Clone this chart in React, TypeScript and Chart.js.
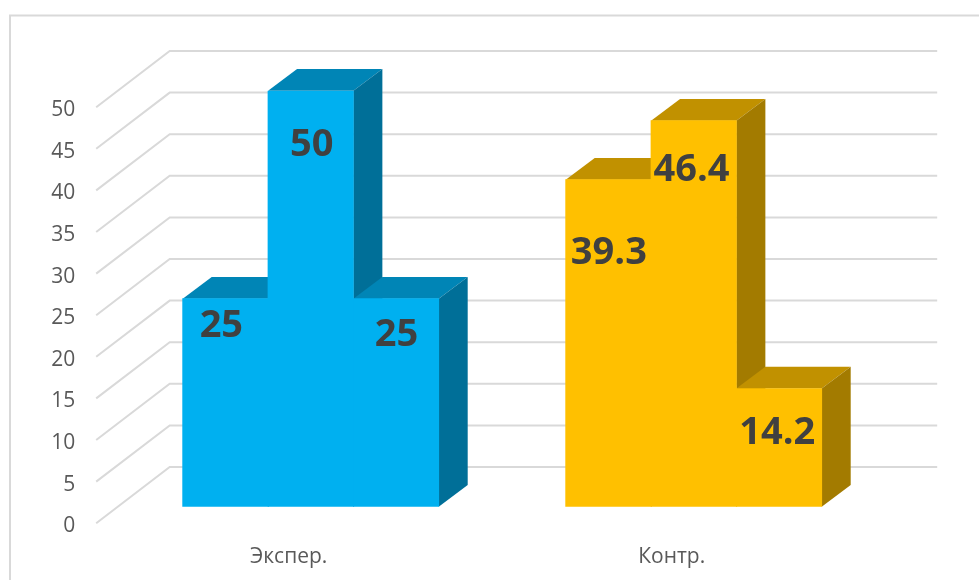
import React, { useEffect, useRef } from "react";
import { Chart, registerables } from "chart.js";

Chart.register(...registerables);

const categories = ["Экспер.", "Контр."];
const seriesA = [25, 39.3];
const seriesB = [50, 46.4];
const seriesC = [25, 14.2];
const yTicksMax = 50;
const yTicksStep = 5;

const frontColors = ["#00B0F0", "#FFC000"];
const topColors = ["#0085B6", "#C19100"];
const sideColors = ["#006F98", "#A37B00"];

// Nudges of the value labels from each bar's top centre, [dx, dy] per dataset then category
const labelNudges = [
  [[-4, 27], [0.5, 73]],
  [[1, 54], [-2.2, 50]],
  [[0.5, 36], [-1.7, 45]],
];

const DEPTH = { dx: 29, dy: -21.7 };
const WALL = { dxLeft: 50.5, dxRight: 52, dy: -39.7 };
const AXIS = { dx: -23, dy: 16.5 };
const GRID = "#D9D9D9";
const FONT = '"Open Sans", sans-serif';

const fakeThreeD = {
  id: "fakeThreeD",
  beforeDraw(chart: any) {
    const { ctx, chartArea, scales } = chart;
    ctx.save();
    ctx.strokeStyle = GRID;
    ctx.lineWidth = 2;
    ctx.strokeRect(10, 15.5, 1200, 1000);
    const left = chartArea.left;
    const right = chartArea.right;
    ctx.lineJoin = "miter";
    for (const t of scales.y.ticks) {
      const y = scales.y.getPixelForValue(t.value);
      ctx.beginPath();
      ctx.moveTo(left + AXIS.dx, y + AXIS.dy);
      ctx.lineTo(left + WALL.dxLeft, y + WALL.dy);
      ctx.lineTo(right + WALL.dxRight, y + WALL.dy);
      ctx.stroke();
    }
    ctx.restore();
  },
  beforeDatasetsDraw(chart: any) {
    const { ctx, scales } = chart;
    const base = scales.y.getPixelForValue(0);
    ctx.save();
    for (let c = 0; c < categories.length; c++) {
      for (let d = 0; d < chart.data.datasets.length; d++) {
        const bar = chart.getDatasetMeta(d).data[c];
        const w = bar.width / 2;
        const l = bar.x - w;
        const r = bar.x + w;
        const top = bar.y;
        ctx.fillStyle = topColors[c];
        ctx.beginPath();
        ctx.moveTo(l, top);
        ctx.lineTo(l + DEPTH.dx, top + DEPTH.dy);
        ctx.lineTo(r + DEPTH.dx, top + DEPTH.dy);
        ctx.lineTo(r, top);
        ctx.closePath();
        ctx.fill();
        ctx.fillStyle = sideColors[c];
        ctx.beginPath();
        ctx.moveTo(r, top);
        ctx.lineTo(r + DEPTH.dx, top + DEPTH.dy);
        ctx.lineTo(r + DEPTH.dx, base + DEPTH.dy);
        ctx.lineTo(r, base);
        ctx.closePath();
        ctx.fill();
      }
    }
    ctx.restore();
  },
  afterDatasetsDraw(chart: any) {
    const { ctx } = chart;
    ctx.save();
    ctx.font = `bold 38px ${FONT}`;
    ctx.fillStyle = "#404040";
    ctx.textAlign = "center";
    ctx.textBaseline = "middle";
    chart.data.datasets.forEach((ds: any, d: number) => {
      chart.getDatasetMeta(d).data.forEach((bar: any, c: number) => {
        const [dx, dy] = labelNudges[d][c];
        ctx.fillText(String(ds.data[c]), bar.x + dx, bar.y + dy);
      });
    });
    ctx.restore();
  },
};

export default function App() {
  const ref = useRef<HTMLCanvasElement>(null);
  useEffect(() => {
    const chart = new Chart(ref.current!, {
      type: "bar",
      data: {
        labels: categories,
        datasets: [
          { label: "A", data: seriesA, backgroundColor: frontColors },
          { label: "B", data: seriesB, backgroundColor: frontColors },
          { label: "C", data: seriesC, backgroundColor: frontColors },
        ],
      },
      plugins: [fakeThreeD],
      options: {
        animation: false,
        responsive: false,
        layout: { padding: { left: 0, right: 979 - 885.2, top: 90.7, bottom: 0 } },
        plugins: { legend: { display: false }, tooltip: { enabled: false } },
        datasets: { bar: { barPercentage: 1, categoryPercentage: 256 / 383, inflateAmount: 0.4, borderWidth: 0 } },
        scales: {
          x: {
            grid: { display: false },
            border: { display: false },
            ticks: { color: "#595959", font: { family: FONT, size: 21 }, padding: 30, maxRotation: 0, labelOffset: -22 },
            afterFit(s: any) { s.height = 73.3; s.paddingLeft = 0; s.paddingRight = 0; },
          },
          y: {
            min: 0,
            max: yTicksMax,
            grid: { display: false },
            border: { display: false },
            ticks: {
              stepSize: yTicksStep,
              color: "#595959",
              font: { family: FONT, size: 21 },
              padding: 36,
              labelOffset: 19.5,
            },
            afterFit(s: any) { s.width = 119.2; s.paddingTop = 0; s.paddingBottom = 0; },
          },
        },
      },
    } as any);
    return () => chart.destroy();
  }, []);
  return (
    <div style={{ position: "absolute", left: 0, top: 0, width: 979, height: 580, background: "#fff" }}>
      <canvas ref={ref} width={979} height={580} style={{ display: "block" }} />
    </div>
  );
}
